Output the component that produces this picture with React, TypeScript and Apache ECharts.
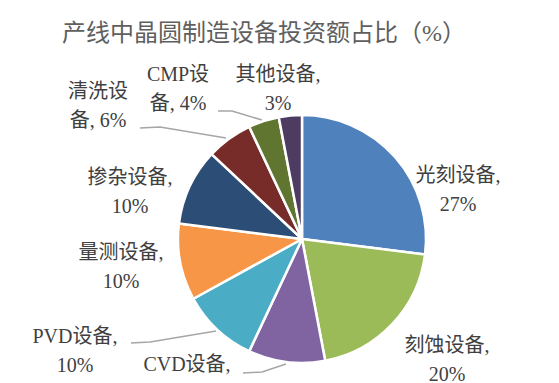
import React, { useEffect, useRef } from "react";
import * as echarts from "echarts";

const categories = ["光刻设备", "刻蚀设备", "CVD设备", "PVD设备", "量测设备", "掺杂设备", "清洗设备", "CMP设备", "其他设备"];
const values = [27, 20, 10, 10, 10, 10, 6, 4, 3];
const labelTexts = [
  "光刻设备,\n27%",
  "刻蚀设备,\n20%",
  "CVD设备,",
  "PVD设备,\n10%",
  "量测设备,\n10%",
  "掺杂设备,\n10%",
  "清洗设\n备, 6%",
  "CMP设\n备, 4%",
  "其他设备,\n3%",
];
const colors = ["#4F81BD", "#9BBB59", "#8064A2", "#4BACC6", "#F79646", "#2C4D75", "#772C2A", "#5F7530", "#4D3B62"];

// label layout (centre of label block) and optional leader lines
const labelPos: number[][] = [
  [458, 189],
  [447, 359],
  [187, 364],
  [75, 350],
  [121, 266],
  [130, 191],
  [98, 105],
  [178, 88],
  [278, 88],
];
const leaderLines: (number[][] | null)[] = [
  null,
  null,
  [[243, 373], [262, 372], [286, 364]],
  [[131, 343], [150, 342], [216, 331]],
  null,
  null,
  [[140, 128], [160, 127], [226, 138]],
  [[218, 111], [232, 111], [262, 120]],
  null,
];

export default function App() {
  const ref = useRef<HTMLDivElement>(null);
  useEffect(() => {
    if (!ref.current) return;
    const chart = echarts.init(ref.current, undefined, { renderer: "svg" });
    const font = "'Liberation Serif', 'Noto Sans CJK SC', serif";
    chart.setOption({
      animation: false,
      backgroundColor: "#ffffff",
      title: {
        text: "产线中晶圆制造设备投资额占比（%）",
        left: 57,
        top: 16,
        textStyle: { fontFamily: font, fontSize: 24, fontWeight: "normal", color: "#5f5f5f" },
      },
      series: [
        {
          type: "pie",
          center: [302, 239],
          radius: 124,
          startAngle: 90,
          clockwise: true,
          avoidLabelOverlap: false,
          itemStyle: { borderColor: "#ffffff", borderWidth: 2.5 },
          label: {
            show: true,
            position: "outside",
            fontFamily: font,
            fontSize: 20,
            lineHeight: 29,
            color: "#404040",
            align: "center",
            formatter: (p: any) => labelTexts[p.dataIndex],
          },
          labelLine: { show: true, lineStyle: { color: "#A6A6A6", width: 1.5 } },
          labelLayout: (p: any) => {
            const i = p.dataIndex;
            const r: any = {
              x: labelPos[i][0],
              y: labelPos[i][1],
              align: "center",
              verticalAlign: "middle",
            };
            if (leaderLines[i]) r.labelLinePoints = leaderLines[i];
            return r;
          },
          data: categories.map((c, i) => ({
            name: c,
            value: values[i],
            itemStyle: { color: colors[i] },
            labelLine: { show: !!leaderLines[i] },
          })),
        },
      ],
    });
    return () => chart.dispose();
  }, []);
  return <div ref={ref} style={{ width: 559, height: 383, position: "absolute", left: 0, top: 0 }} />;
}
